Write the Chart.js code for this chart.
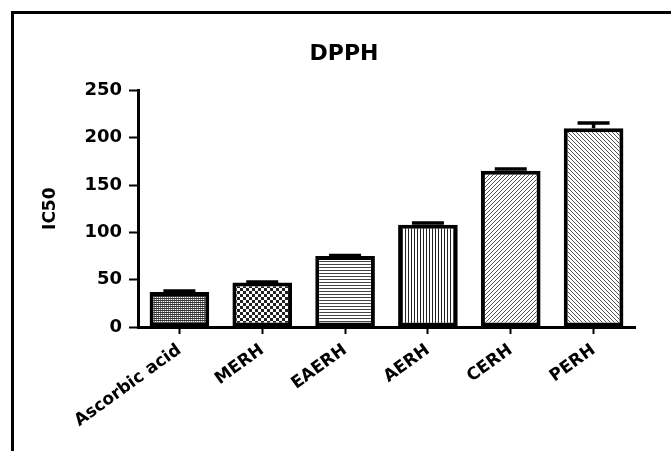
<!DOCTYPE html>
<html>
<head>
<meta charset="utf-8">
<script src="https://cdn.jsdelivr.net/npm/chart.js@4"></script>
<style>
	body { margin: 0; background: #fff; }
	#frame { position: absolute; left: 11px; top: 11px; width: 700px; height: 500px; border-left: 3px solid #000; border-top: 3px solid #000; }
	#wrap { position: absolute; left: 0; top: 0; width: 671px; height: 451px; overflow: hidden; }
	#chart { position: absolute; left: 0; top: 0; }
</style>
</head>
<body>
<div id="wrap">
	<div id="frame"></div>
	<canvas id="chart" width="671" height="451"></canvas>
</div>
<script>
var groups = ['Ascorbic acid', 'MERH', 'EAERH', 'AERH', 'CERH', 'PERH'];
var ic50 = [37, 47, 75, 108, 165, 210];
var sem = [1, 0.5, 0.5, 2, 2, 5.5];
var yMax = 250;
var yStep = 50;

var fontFamily = '"DejaVu Sans", "Liberation Sans", Arial, sans-serif';

// little tiles for the hatched fills
function makePattern(w, h, paint) {
	var tile = document.createElement('canvas');
	tile.width = w;
	tile.height = h;
	var c = tile.getContext('2d');
	c.fillStyle = '#fff';
	c.fillRect(0, 0, w, h);
	c.fillStyle = '#222';
	paint(c);
	return document.createElement('canvas').getContext('2d').createPattern(tile, 'repeat');
}

var fills = [
	makePattern(2, 2, c => { c.fillStyle = '#333'; c.fillRect(0, 0, 2, 1); c.fillStyle = '#777'; c.fillRect(0, 1, 1, 1); }),
	makePattern(6, 6, c => { c.fillRect(0, 0, 3, 3); c.fillRect(3, 3, 3, 3); }),
	makePattern(1, 3, c => { c.fillStyle = '#444'; c.fillRect(0, 0, 1, 1); }),
	makePattern(3, 1, c => { c.fillRect(0, 0, 1, 1); }),
	makePattern(4, 4, c => { c.fillStyle = '#555'; for (var i = 0; i < 4; i++) c.fillRect(3 - i, i, 1, 1); }),
	makePattern(4, 4, c => { c.fillStyle = '#555'; for (var i = 0; i < 4; i++) c.fillRect(i, i, 1, 1); })
];

var errorBars = {
	id: 'errorBars',
	afterDatasetsDraw(chart) {
		var ctx = chart.ctx;
		var y = chart.scales.y;
		var meta = chart.getDatasetMeta(0);
		ctx.save();
		ctx.strokeStyle = '#000';
		ctx.lineWidth = 3.5;
		meta.data.forEach((bar, i) => {
			var top = y.getPixelForValue(ic50[i] + sem[i]);
			var base = y.getPixelForValue(ic50[i]);
			ctx.beginPath();
			ctx.moveTo(bar.x, base);
			ctx.lineTo(bar.x, top);
			ctx.moveTo(bar.x - 16, top);
			ctx.lineTo(bar.x + 16, top);
			ctx.stroke();
		});
		ctx.restore();
	}
};

new Chart(document.getElementById('chart').getContext('2d'), {
	type: 'bar',
	data: {
		labels: groups,
		datasets: [{
			data: ic50,
			backgroundColor: fills,
			borderColor: '#000',
			borderWidth: 4,
			borderSkipped: false,
			barPercentage: 0.72,
			categoryPercentage: 1
		}]
	},
	options: {
		responsive: false,
		animation: false,
		layout: { padding: { left: 53, right: 36, top: 0, bottom: 0 } },
		plugins: {
			legend: { display: false },
			tooltip: { enabled: false },
			title: {
				display: true,
				text: 'DPPH',
				color: '#000',
				font: { family: fontFamily, size: 22, weight: 'bold' },
				padding: { top: 41, bottom: 23 }
			}
		},
		scales: {
			x: {
				grid: { display: true, drawOnChartArea: false, offset: false, tickLength: 7, tickWidth: 2, tickColor: '#000' },
				border: { display: true, color: '#000', width: 3 },
				ticks: {
					color: '#000',
					font: { family: fontFamily, size: 17, weight: 'bold' },
					minRotation: 36,
					maxRotation: 36,
					padding: 6,
					autoSkip: false
				},
				afterFit: scale => { scale.height = 124; }
			},
			y: {
				min: 0,
				max: yMax,
				grid: { display: true, drawOnChartArea: false, tickLength: 9, tickWidth: 2, tickColor: '#000' },
				border: { display: true, color: '#000', width: 3 },
				ticks: {
					stepSize: yStep,
					color: '#000',
					font: { family: fontFamily, size: 18, weight: 'bold' },
					padding: 7
				},
				title: {
					display: true,
					text: 'IC50',
					color: '#000',
					font: { family: fontFamily, size: 17, weight: 'bold' },
					padding: { top: -13, bottom: 0 }
				},
				afterFit: scale => { scale.width = 85; }
			}
		}
	},
	plugins: [errorBars]
});
</script>
</body>
</html>
